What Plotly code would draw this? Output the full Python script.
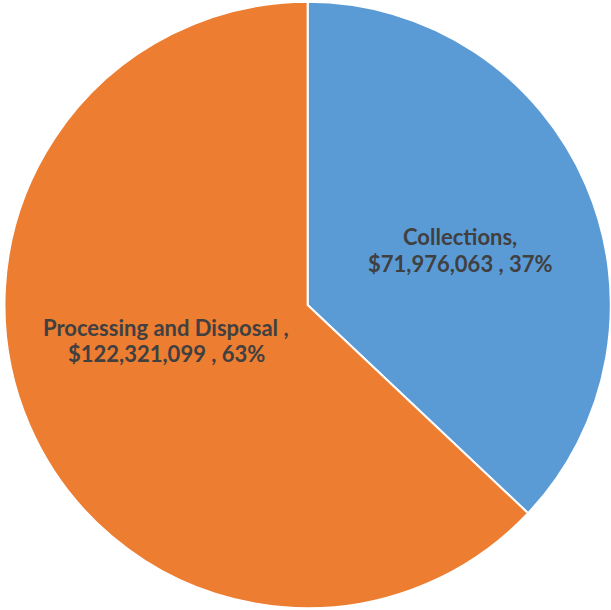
import plotly.graph_objects as go

labels = ["Collections", "Processing and Disposal"]
values = [71976063, 122321099]
colors = ["#5B9BD5", "#ED7D31"]
label_suffix = [",", " ,"]

total = sum(values)
line1 = [f"{l}{s}" for l, s in zip(labels, label_suffix)]
line2 = [f"${v:,} , {round(100 * v / total)}%" for v in values]

W, H = 611, 610
fig = go.Figure(go.Pie(
    labels=labels, values=values, sort=False, direction="clockwise", rotation=0,
    marker=dict(colors=colors, line=dict(color="white", width=2)),
    textinfo="none", hoverinfo="label+value+percent", showlegend=False,
    domain=dict(x=[0.007, 1], y=[0.003, 0.997]),
))

# label line positions in pixels (center x, line1 y, line2 y)
pos = [(460, 236, 263), (166, 327, 353)]
font = dict(family="Lato", size=22, color="#404040")
for t1, t2, (px, py1, py2) in zip(line1, line2, pos):
    for t, py in ((t1, py1), (t2, py2)):
        fig.add_annotation(x=px / W, y=1 - py / H, xref="paper", yref="paper",
                           text=f"<b>{t}</b>", showarrow=False, font=font,
                           xanchor="center", yanchor="middle", align="center")

fig.update_layout(width=W, height=H, margin=dict(l=0, r=0, t=0, b=0),
                  paper_bgcolor="white", plot_bgcolor="white")
fig.write_html("out.html", config={"displayModeBar": False},
               post_script="document.body.style.margin='0';")
